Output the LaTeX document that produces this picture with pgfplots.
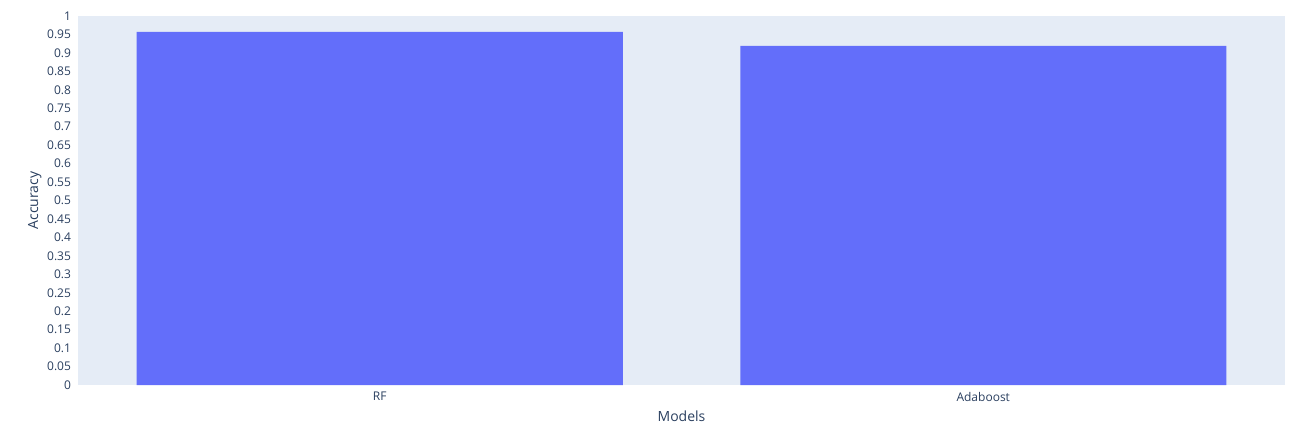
\documentclass[border=0pt]{standalone}
\usepackage{pgfplots}
\pgfplotsset{compat=1.18}
\usepackage{fontspec}
\setmainfont{Open Sans}
\definecolor{pbar}{HTML}{636EFA}
\definecolor{pbg}{HTML}{E5ECF6}
\definecolor{ptxt}{HTML}{2A3F5F}
\begin{document}
\begin{tikzpicture}
\begin{axis}[
  scale only axis, width=603.5pt, height=184.5pt,
  xmin=-0.5, xmax=1.5, ymin=0, ymax=1,
  axis background/.style={fill=pbg},
  axis line style={draw=none},
  major tick length=0pt,
  xtick={0,1}, xticklabels={RF,Adaboost},
  ytick={0,0.05,...,1.001},
  yticklabel style={/pgf/number format/fixed,/pgf/number format/precision=2},
  /pgf/number format/assume math mode=true,
  ticklabel style={font=\fontsize{6}{7}\selectfont, text=ptxt},
  xlabel={Models}, ylabel={Accuracy},
  label style={font=\fontsize{7}{8}\selectfont, text=ptxt},
  xlabel style={yshift=2pt}, ylabel style={yshift=-4pt},
]
\addplot[ybar, bar width=243pt, fill=pbar, draw=none] coordinates {(0,0.957) (1,0.919)};
\end{axis}
\path ([shift={(-39pt,-25pt)}]current axis.south west) rectangle ([shift={(10.5pt,8pt)}]current axis.north east);
\end{tikzpicture}
\end{document}
